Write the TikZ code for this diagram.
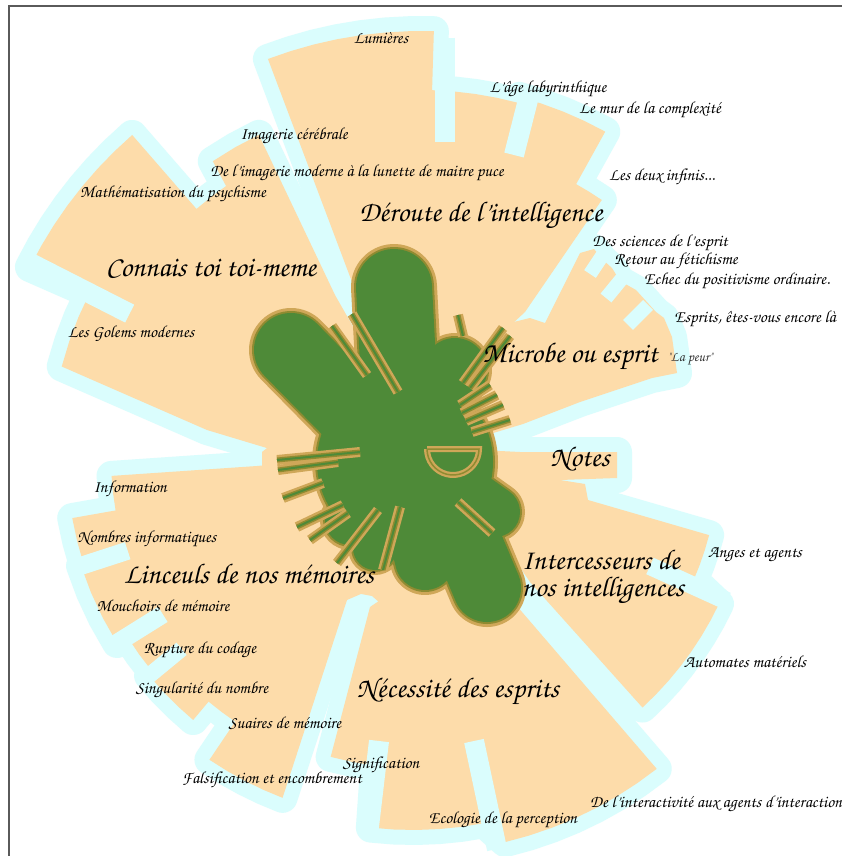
\documentclass[tikz,border=0pt]{standalone}
\usepackage[T1,TU]{fontenc}
\definecolor{peach}{HTML}{FDDCAA}
\definecolor{halo}{HTML}{DAFDFD}
\definecolor{blobgreen}{HTML}{4E8A38}
\definecolor{blobtan}{HTML}{CFA758}
\definecolor{blobolive}{HTML}{8F8B31}
\definecolor{framegray}{HTML}{5A5A5A}
\newcommand\chfont{\fontencoding{T1}\fontfamily{pzc}\fontseries{mb}\fontshape{it}\selectfont}

% ---- sector outlines (pixel coordinates, y downwards) ----
\def\pathConnais{(380,430) -- (290,455) -- (207,430) --
 plot[domain=-165.4:-153,samples=4] ({413+363*cos(\x)},{458+363*sin(\x)}) --
 plot[domain=-153.5:-131,samples=8] ({413+428*cos(\x)},{458+428*sin(\x)}) --
 plot[domain=-131:-124.5,samples=3] ({413+330*cos(\x)},{458+330*sin(\x)}) --
 plot[domain=-124:-115.5,samples=3] ({413+358*cos(\x)},{458+358*sin(\x)}) --
 (335,295) -- (372,360) -- (390,420) -- cycle}
\def\pathDeroute{(400,420) -- (372,335) --
 plot[domain=-110.7:-88.3,samples=8] ({421+433*cos(\x)},{464+433*sin(\x)}) --
 plot[domain=-88.3:-75,samples=5] ({421+374*cos(\x)},{464+374*sin(\x)}) --
 plot[domain=-75:-61,samples=5] ({421+380*cos(\x)},{464+380*sin(\x)}) --
 plot[domain=-61:-55.6,samples=3] ({421+320*cos(\x)},{464+320*sin(\x)}) --
 (525,312) -- (430,400) -- cycle}
\def\pathMicrobe{(420,440) -- (440,340) -- (530,318) -- (545,323) -- (580,253) -- (594,249) -- (603,260) -- (612,268) -- (620,281) -- (636,290) -- (646,301) -- (656,312) -- (664,318) -- (672,337) -- (677,373) -- (652,378) -- (580,402) -- (523,424) -- (470,440) -- cycle}
\def\pathNotes{(445,462) -- (480,450) -- (520,452) -- (617,452) -- (617,478) -- (560,480) -- (470,480) -- cycle}
\def\pathInter{(450,480) -- (560,480) -- (585,484) -- (588,500) --
 plot[domain=14.6:23.5,samples=4] ({413+306*cos(\x)},{458+306*sin(\x)}) --
 plot[domain=25.5:47.4,samples=8] ({413+339*cos(\x)},{458+339*sin(\x)}) --
 (530,582) -- (515,560) -- cycle}
\def\pathNec{(430,560) -- (510,598) --
 plot[domain=51.9:76.5,samples=8] ({413+395*cos(\x)},{458+395*sin(\x)}) --
 plot[domain=79:96.5,samples=6] ({413+372*cos(\x)},{458+372*sin(\x)}) --
 plot[domain=97:105.4,samples=3] ({413+310*cos(\x)},{458+310*sin(\x)}) --
 (370,607) -- (395,590) -- cycle}
\def\pathLinc{(395,470) -- (300,462) -- (257,466) --
 plot[domain=176.6:170,samples=3] ({413+302*cos(\x)},{458+302*sin(\x)}) --
 plot[domain=170:162,samples=3] ({413+346*cos(\x)},{458+346*sin(\x)}) --
 plot[domain=162:148,samples=4] ({413+349*cos(\x)},{458+349*sin(\x)}) --
 plot[domain=148:140.5,samples=3] ({413+337*cos(\x)},{458+337*sin(\x)}) --
 plot[domain=140.5:130,samples=4] ({413+342*cos(\x)},{458+342*sin(\x)}) --
 plot[domain=130:124,samples=3] ({413+318*cos(\x)},{458+318*sin(\x)}) --
 plot[domain=124:111,samples=5] ({413+364*cos(\x)},{458+364*sin(\x)}) --
 (347,600) -- (370,590) -- (395,520) -- cycle}
\def\pathHub{(525,325) -- (505,395) -- (478,438) -- (478,462) -- (570,485) -- (525,560) -- (508,580) -- (470,630) -- (400,620) -- (372,596) -- (340,590) -- (300,520) -- (262,470) -- (262,452) -- (290,430) -- (300,400) -- (320,360) -- (365,330) -- (400,300) -- (430,320) -- (470,335) -- cycle}

% ---- central blob, drawn in three passes ----
\newcommand\blobpass[2]{%
 \fill[#2] (405,462) circle[radius={88+#1/2}];
 \fill[#2] (350,520) circle[radius={25+#1/2}];
 \fill[#2] (375,548) circle[radius={22+#1/2}];
 \draw[#2, line cap=round, line width={76+#1}] (400,400) -- (394,287);
 \draw[#2, line cap=round, line width={74+#1}] (350,410) -- (291,350);
 \draw[#2, line cap=round, line width={68+#1}] (450,500) -- (487,588);
 \draw[#2, line cap=round, line width={60+#1}] (410,500) -- (425,560);
 \draw[#2, line cap=round, line width={64+#1}] (430,410) -- (455,370);
 \draw[#2, line cap=round, line width={50+#1}] (450,480) -- (495,512);
}
\newcommand\spikepass[1]{%
 \draw[#1] (367,375) -- (332,326);
 \draw[#1] (398,392) -- (352,314);
 \draw[#1] (463,336) -- (458,315);
 \draw[#1] (463,383) -- (503,328);
 \draw[#1] (470,388) -- (510,336);
 \draw[#1] (460,405) -- (490,385);
 \draw[#1] (462,413) -- (497,395);
 \draw[#1] (466,421) -- (503,405);
 \draw[#1] (472,432) -- (510,420);
 \draw[#1] (360,452) -- (277,460);
 \draw[#1] (338,462) -- (278,470);
 \draw[#1] (323,483) -- (283,498);
 \draw[#1] (343,505) -- (297,527);
 \draw[#1] (348,513) -- (310,540);
 \draw[#1] (378,510) -- (337,563);
 \draw[#1] (400,507) -- (383,570);
 \draw[#1] (458,502) -- (492,533);
}

\begin{document}
\begin{tikzpicture}[x=1pt,y=-1pt,
  lab/.style={font={\fontsize{17}{20}\chfont}, text=black, inner sep=0pt, anchor=center},
  biglab/.style={font={\fontsize{28.5}{27}\chfont}, text=black, inner sep=0pt, anchor=center},
  smalllab/.style={font={\fontsize{14}{16}\chfont}, text=black!80, inner sep=0pt, anchor=center},
  halostroke/.style={draw=halo, line width=30, line join=round},
  cyanstrip/.style={draw=halo, line width=20, line cap=butt},
  spiketan/.style={draw=blobtan, line width=10},
  spikeolive/.style={draw=blobolive, line width=5},
  spikegreen/.style={draw=blobgreen, line width=2}]

\useasboundingbox (0,0) rectangle (842,856);
\fill[white] (0,0) rectangle (842,856);

% halos
\draw[halostroke] \pathConnais;
\draw[halostroke] \pathDeroute;
\draw[halostroke] \pathMicrobe;
\draw[halostroke] \pathNotes;
\draw[halostroke] \pathInter;
\draw[halostroke] \pathNec;
\draw[halostroke] \pathLinc;
% fills
\fill[peach] \pathConnais;
\fill[peach] \pathDeroute;
\fill[peach] \pathMicrobe;
\fill[peach] \pathNotes;
\fill[peach] \pathInter;
\fill[peach] \pathNec;
\fill[peach] \pathLinc;

% gaps between sub-sectors
\draw[cyanstrip] (445,38) -- (445,142);
\draw[cyanstrip] (529,96) -- (514,155);
\draw[cyanstrip, line width=14] (606,250) -- (590,274);
\draw[cyanstrip, line width=14] (624,276) -- (606,298);
\draw[cyanstrip, line width=14] (648,305) -- (628,325);
\draw[cyanstrip, line width=18] (650,566) -- (727,601);
\draw[cyanstrip] (474,741) -- (497,849);
\draw[cyanstrip] (379,741) -- (368,835);
\draw[cyanstrip, line width=18] ({413+300*cos(162)},{458+300*sin(162)}) -- ({413+355*cos(162)},{458+355*sin(162)});
\draw[cyanstrip, line width=18] ({413+295*cos(148)},{458+295*sin(148)}) -- ({413+355*cos(148)},{458+355*sin(148)});
\draw[cyanstrip, line width=16] ({413+300*cos(140.5)},{458+300*sin(140.5)}) -- ({413+348*cos(140.5)},{458+348*sin(140.5)});
\draw[cyanstrip] ({413+318*cos(-153)},{458+318*sin(-153)}) -- ({413+432*cos(-153)},{458+432*sin(-153)});

% orange hub round the blob
\fill[peach] \pathHub;

% blob
\blobpass{10}{blobtan}
\blobpass{4}{blobolive}
\blobpass{0}{blobgreen}
\spikepass{spiketan}
\spikepass{spikeolive}
\spikepass{spikegreen}
\draw[blobtan, line width=6, fill=blobgreen, fill opacity=0.6] (427,449) -- (479,449) -- plot[domain=0:180,samples=20] ({453+26*cos(\x)},{449+26*sin(\x)}) -- cycle;
\draw[blobolive, line width=1.5] (427,449) -- (479,449) -- plot[domain=0:180,samples=20] ({453+26*cos(\x)},{449+26*sin(\x)}) -- cycle;

% frame
\draw[framegray, line width=2] (9,856) -- (9,6) -- (842,6);

% labels
\node[lab] (lumieres) at (381,38) {Lumières};
\node[lab] (age) at (548,89) {L'âge labyrinthique};
\node[lab] (mur) at (650,110) {Le mur de la complexité};
\node[lab] (infinis) at (662,177) {Les deux infinis...};
\node[lab] (imagerie) at (294,136) {Imagerie cérébrale};
\node[lab] (lunette) at (357,173) {De l'imagerie moderne à la lunette de maitre puce};
\node[lab] (math) at (173,194) {Mathématisation du psychisme};
\node[biglab] (deroute) at (481,216) {Déroute de l'intelligence};
\node[lab] (sciences) at (660,243) {Des sciences de l'esprit};
\node[lab] (fetich) at (676,261) {Retour au fétichisme};
\node[lab] (echec) at (737,281) {Echec du positivisme ordinaire.};
\node[biglab] (connais) at (211,268) {Connais toi toi-meme};
\node[lab] (golems) at (131,334) {Les Golems modernes};
\node[lab] (esprits) at (755,319) {Esprits, êtes-vous encore là};
\node[biglab] (microbe) at (570,357) {Microbe ou esprit};
\node[smalllab] (peur) at (690,359) {\textquotedbl La peur\textquotedbl};
\node[biglab] (notes) at (580,459) {Notes};
\node[lab] (information) at (130,489) {Information};
\node[lab] (nombres) at (147,539) {Nombres informatiques};
\node[lab] (anges) at (755,555) {Anges et agents};
\node[biglab, align=left] (inter) at (603,577) {Intercesseurs de\\nos intelligences};
\node[biglab] (linceuls) at (249,574) {Linceuls de nos mémoires};
\node[lab] (mouchoirs) at (163,606) {Mouchoirs de mémoire};
\node[lab] (rupture) at (200,650) {Rupture du codage};
\node[lab] (automates) at (745,662) {Automates matériels};
\node[lab] (singularite) at (202,690) {Singularité du nombre};
\node[biglab] (necessite) at (458,692) {Nécessité des esprits};
\node[lab] (suaires) at (285,723) {Suaires de mémoire};
\node[lab] (signification) at (381,765) {Signification};
\node[lab] (falsification) at (272,780) {Falsification et encombrement};
\node[lab] (ecologie) at (503,820) {Ecologie de la perception};
\node[lab] (interactivite) at (716,804) {De l'interactivité aux agents d'interaction};
\end{tikzpicture}
\end{document}
